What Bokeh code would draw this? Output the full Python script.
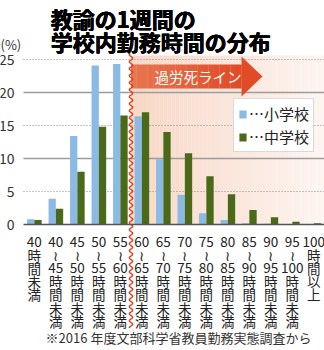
import numpy as np
from bokeh.plotting import figure
from bokeh.models import Range1d, LinearAxis, FixedTicker, Legend, LegendItem
from bokeh.core.properties import value
from bokeh.embed import file_html
from bokeh.resources import INLINE

# ---------------- data ----------------
categories = ["40時間未満", "40～45時間未満", "45～50時間未満", "50～55時間未満",
              "55～60時間未満", "60～65時間未満", "65～70時間未満", "70～75時間未満",
              "75～80時間未満", "80～85時間未満", "85～90時間未満", "90～95時間未満",
              "95～100時間未満", "100時間以上"]
tick_labels = ["40\n時\n間\n未\n満",
               "40\n≀\n45\n時\n間\n未\n満", "45\n≀\n50\n時\n間\n未\n満",
               "50\n≀\n55\n時\n間\n未\n満", "55\n≀\n60\n時\n間\n未\n満",
               "60\n≀\n65\n時\n間\n未\n満", "65\n≀\n70\n時\n間\n未\n満",
               "70\n≀\n75\n時\n間\n未\n満", "75\n≀\n80\n時\n間\n未\n満",
               "80\n≀\n85\n時\n間\n未\n満", "85\n≀\n90\n時\n間\n未\n満",
               "90\n≀\n95\n時\n間\n未\n満", "95\n≀\n100\n時\n間\n未\n満",
               "100\n時\n間\n以\n上"]
elementary = [0.8, 3.9, 13.4, 24.1, 24.3, 16.4, 9.9, 4.5, 1.7, 0.7, 0.2, 0.1, 0.05, 0.0]
junior_high = [0.7, 2.4, 8.0, 14.8, 16.5, 17.0, 14.0, 10.8, 7.3, 4.6, 2.2, 1.1, 0.4, 0.2]
y_ticks = [0, 5, 10, 15, 20, 25]
solid_grid = [10, 20]
dotted_grid = [5, 15, 25]
series_names = ["…小学校", "…中学校"]
title_lines = ["教諭の1週間の", "学校内勤務時間の分布"]
line_label = "過労死ライン"
karoshi_index = 4.5
note = "※2016 年度文部科学省教員勤務実態調査から"

# ---------------- layout helpers (pixel -> data) ----------------
W, H = 324, 350
FL = 23.0
PX_CAT = 21.5
Y0 = 224.0
PX_UNIT = 6.6


def X(px):
    return (np.asarray(px, dtype=float) - FL) / PX_CAT - 0.5


def Y(py):
    return (Y0 - np.asarray(py, dtype=float)) / PX_UNIT


FONT = "Noto Sans CJK JP"
BLUE = "#8bbbe4"
GREEN = "#4a6a1a"

p = figure(width=W, height=H, x_range=Range1d(float(X(0)), float(X(W))),
           y_range=Range1d(float(Y(H)), float(Y(0))),
           min_border=0, output_backend="svg", toolbar_location=None,
           x_axis_type=None, y_axis_type=None, outline_line_color=None)
p.background_fill_color = "white"
p.border_fill_color = "white"

# shaded "over-limit" zone (gradient peach)
n = 48
xline_px = FL + (karoshi_index + 0.5) * PX_CAT
edges = np.linspace(xline_px, W, n + 1)
c0 = np.array([248, 216, 198])
c1 = np.array([254, 245, 241])
cols = ["#%02x%02x%02x" % tuple(int(v) for v in (c0 + (c1 - c0) * t)) for t in np.linspace(0, 1, n)]
p.quad(left=X(edges[:-1]), right=X(edges[1:]) + 0.01, bottom=0, top=float(Y(55)),
       fill_color=cols, line_color=None)

# grid lines
xl, xr = float(X(FL)), float(X(W))
p.segment(x0=xl, x1=xr, y0=solid_grid, y1=solid_grid, line_color="#9c9c9c", line_width=1.5)
p.segment(x0=xl, x1=xr, y0=dotted_grid, y1=dotted_grid, line_color="#8a8a8a",
          line_width=1, line_dash="1 2")

# bars
idx = np.arange(len(categories))
r1 = p.vbar(x=idx - 0.165, top=elementary, width=0.34, bottom=0, fill_color=BLUE, line_color=None)
r2 = p.vbar(x=idx + 0.175, top=junior_high, width=0.34, bottom=0, fill_color=GREEN, line_color=None)

# arrow band
band_l, band_r, tip = xline_px, 241.0, 262.0
m = 20
bedges = np.linspace(band_l, band_r, m + 1)
a0 = np.array([232, 118, 80])
a1 = np.array([225, 76, 40])
acols = ["#%02x%02x%02x" % tuple(int(v) for v in (a0 + (a1 - a0) * t)) for t in np.linspace(0, 1, m)]
p.quad(left=X(bedges[:-1]), right=X(bedges[1:]) + 0.01, bottom=float(Y(88)), top=float(Y(64)),
       fill_color=acols, line_color=None)
p.patch(x=X([band_r, tip, band_r]), y=Y([56, 76, 96]), fill_color=acols[-1], line_color=None)
p.text(x=[float(X(154))], y=[float(Y(76))], text=[line_label], text_color="white",
       text_font=value(FONT), text_font_size="14.5px", text_align="left", text_baseline="middle")

# wavy red line
wy = np.arange(53, 328, 0.5)
wx = xline_px + 1.6 * np.sin(2 * np.pi * wy / 7.0)
p.line(x=X(wx), y=Y(wy), line_color="#e63c1c", line_width=1.5)

# title (drawn with tiny offsets to look heavier)
for dx, dy in [(0, 0), (0.5, 0), (0, 0.4), (0.5, 0.4)]:
    p.text(x=[float(X(50 + dx))] * 2, y=[float(Y(17.5 + dy)), float(Y(40.5 + dy))], text=title_lines,
           text_color="black", text_font=value(FONT), text_font_style="bold",
           text_font_size="22px", text_align="left", text_baseline="middle")

# unit
p.text(x=[float(X(0))], y=[float(Y(44))], text=["(%)"], text_color="#333333",
       text_font=value(FONT), text_font_size="13px", text_align="left", text_baseline="middle")

# note
p.text(x=[float(X(178))], y=[float(Y(337))], text=[note], text_color="#333333",
       text_font=value(FONT), text_font_size="13px", text_align="center", text_baseline="middle")

# category labels, stacked vertically (one text per line, placed under each category)
lx, ly, lt = [], [], []
for i, lab in enumerate(tick_labels):
    for j, part in enumerate(lab.split("\n")):
        lx.append(float(i))
        ly.append(float(Y(241.5 + 13.1 * j)))
        lt.append(part)
p.text(x=lx, y=ly, text=lt, text_color="#222222", text_font=value(FONT),
       text_font_size="13.5px", text_align="center", text_baseline="middle")

# axes
xaxis = LinearAxis(fixed_location=0, ticker=FixedTicker(ticks=list(range(len(categories)))),
                   major_label_overrides={i: "" for i in range(len(categories))},
                   bounds=(xl, xr), axis_line_color="#555555", axis_line_width=1.5,
                   major_tick_line_color=None, minor_tick_line_color=None,
                   major_label_text_font_size="1px")
p.add_layout(xaxis, "below")

yaxis = LinearAxis(fixed_location=xl, ticker=FixedTicker(ticks=y_ticks),
                   axis_line_color=None, major_tick_line_color=None, minor_tick_line_color=None,
                   major_label_text_font_size="14px", major_label_text_font=FONT,
                   major_label_standoff=3, major_label_text_color="#333333")
p.add_layout(yaxis, "left")

legend = Legend(items=[LegendItem(label=series_names[0], renderers=[r1]),
                       LegendItem(label=series_names[1], renderers=[r2])],
                location=(233, 198), border_line_color="#b5b5b5", border_line_width=1.5,
                background_fill_color="white", background_fill_alpha=1.0,
                padding=4, spacing=2, margin=0, glyph_width=9, glyph_height=10,
                label_standoff=2, label_height=20, label_text_font=FONT,
                label_text_font_size="15px", label_text_color="#222222")
p.add_layout(legend)

open("out.html", "w").write(file_html(p, INLINE))
